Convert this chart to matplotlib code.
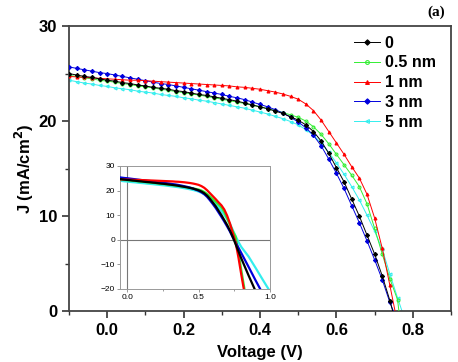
import numpy as np
import matplotlib.pyplot as plt
from matplotlib.ticker import MultipleLocator

plt.rcParams['font.family'] = ['Liberation Sans', 'DejaVu Sans']

# voltage grid (V) shared by every curve
voltage = [-0.10, -0.08, -0.06, -0.04, -0.02, 0.00, 0.02, 0.04, 0.06, 0.08,
           0.10, 0.12, 0.14, 0.16, 0.18, 0.20, 0.22, 0.24, 0.26, 0.28,
           0.30, 0.32, 0.34, 0.36, 0.38, 0.40, 0.42, 0.44, 0.46, 0.48,
           0.50, 0.52, 0.54, 0.56, 0.58, 0.60, 0.62, 0.64, 0.66, 0.68,
           0.70, 0.72, 0.74, 0.76, 0.78, 0.80, 0.85, 0.90, 0.95, 1.00]

# current density (mA/cm2)
j_0nm = [25.0, 24.85, 24.7, 24.6, 24.45, 24.3, 24.2, 24.05, 23.95, 23.8,
         23.7, 23.55, 23.45, 23.35, 23.2, 23.1, 22.95, 22.8, 22.7, 22.55,
         22.4, 22.25, 22.1, 21.9, 21.7, 21.5, 21.3, 21.05, 20.8, 20.45,
         20.1, 19.6, 18.9, 17.9, 16.6, 15.1, 13.6, 11.8, 10.0, 8.0,
         6.0, 3.7, 1.1, -1.9, -4.8, -7.7, -14.5, -21.0, -28.0, -34.0]
j_05nm = [24.8, 24.7, 24.55, 24.45, 24.3, 24.2, 24.1, 23.95, 23.85, 23.7,
          23.6, 23.5, 23.35, 23.25, 23.1, 23.0, 22.85, 22.75, 22.6, 22.45,
          22.3, 22.15, 22.0, 21.85, 21.65, 21.5, 21.3, 21.1, 20.9, 20.65,
          20.4, 20.0, 19.4, 18.6, 17.6, 16.5, 15.4, 14.3, 13.1, 11.3,
          8.7, 6.0, 3.4, 1.2, -5.4, -12.6, -30.0, -48.0, -66.0, -84.0]
j_1nm = [24.7, 24.65, 24.6, 24.55, 24.5, 24.45, 24.4, 24.35, 24.3, 24.3,
         24.25, 24.2, 24.15, 24.1, 24.05, 24.0, 23.95, 23.9, 23.85, 23.8,
         23.75, 23.7, 23.6, 23.55, 23.45, 23.35, 23.2, 23.05, 22.85, 22.6,
         22.3, 21.8, 21.1, 20.1, 18.9, 17.7, 16.5, 15.2, 14.0, 12.3,
         9.8, 6.6, 2.7, -1.3, -7.5, -14.5, -31.0, -48.0, -65.0, -82.0]
j_3nm = [25.7, 25.55, 25.4, 25.25, 25.1, 25.0, 24.85, 24.7, 24.55, 24.4,
         24.25, 24.1, 23.95, 23.85, 23.7, 23.55, 23.4, 23.25, 23.1, 22.95,
         22.8, 22.6, 22.45, 22.25, 22.0, 21.75, 21.5, 21.2, 20.85, 20.4,
         19.9, 19.3, 18.5, 17.4, 16.0, 14.5, 12.9, 11.1, 9.3, 7.4,
         5.4, 3.3, 0.9, -1.1, -3.3, -5.5, -11.0, -16.6, -22.0, -27.5]
j_5nm = [24.3, 24.15, 24.0, 23.9, 23.75, 23.65, 23.5, 23.4, 23.3, 23.15,
         23.05, 22.95, 22.8, 22.7, 22.6, 22.45, 22.35, 22.2, 22.1, 21.95,
         21.8, 21.65, 21.5, 21.35, 21.15, 20.95, 20.75, 20.5, 20.25, 19.95,
         19.6, 19.1, 18.5, 17.7, 16.7, 15.6, 14.4, 13.1, 11.7, 10.1,
         8.4, 6.5, 3.9, 1.4, -1.0, -3.0, -6.8, -11.5, -16.3, -21.0]

labels = ['0', '0.5 nm', '1 nm', '3 nm', '5 nm']
series = [j_0nm, j_05nm, j_1nm, j_3nm, j_5nm]
colors = ['black', '#33ee33', 'red', '#0000dd', '#33eeee']
markers = ['D', 'o', '^', 'D', '<']
zorders = [6, 3, 5, 4, 2]

fig = plt.figure(figsize=(4.58, 3.62), dpi=100)
ax = fig.add_axes([0.1507, 0.1409, 0.834, 0.787])

for j, lab, c, m, z in zip(series, labels, colors, markers, zorders):
    face = 'none' if lab in ('0.5 nm', '5 nm') else c
    ax.plot(voltage, j, color=c, lw=0.7, marker=m, ms=2.1, mfc=face,
            mec=c, mew=0.8, label=lab, zorder=z)

ax.set_xlim(-0.1, 0.9)
ax.set_ylim(0, 30)
ax.xaxis.set_major_locator(MultipleLocator(0.2))
ax.xaxis.set_minor_locator(MultipleLocator(0.1))
ax.yaxis.set_major_locator(MultipleLocator(10))
ax.yaxis.set_minor_locator(MultipleLocator(5))
ax.tick_params(which='major', direction='out', length=5, width=1.2,
               labelsize=12, color='#333333')
ax.tick_params(which='minor', direction='out', length=3, width=1.0,
               color='#333333')
for lbl in ax.get_xticklabels() + ax.get_yticklabels():
    lbl.set_fontweight('bold')
for s in ax.spines.values():
    s.set_linewidth(1.3)
    s.set_color('#444444')

ax.set_xlabel('Voltage (V)', fontsize=12, fontweight='bold', labelpad=5)
ax.set_ylabel('J (mA/cm$\\mathbf{^2}$)', fontsize=12, fontweight='bold',
              labelpad=2)

leg = ax.legend(loc='upper right', frameon=False, fontsize=11.5,
                handlelength=1.6, handletextpad=0.3, labelspacing=0.3,
                borderaxespad=0.2, markerscale=1.3,
                bbox_to_anchor=(0.985, 1.0))
for t in leg.get_texts():
    t.set_fontweight('bold')

fig.text(0.952, 0.965, '(a)', fontsize=11, fontweight='bold',
         family='Liberation Serif', ha='center', va='center')

# inset: same curves over wider range
ins = fig.add_axes([0.262, 0.2017, 0.3275, 0.34])
for j, c, z in zip(series, colors, zorders):
    ins.plot(voltage, j, color=c, lw=1.6, zorder=z)
ins.axhline(0, color='#777777', lw=0.8, zorder=1)
ins.axvline(0, color='#777777', lw=0.8, zorder=1)
ins.set_xlim(-0.05, 1.0)
ins.set_ylim(-20, 30)
ins.xaxis.set_major_locator(MultipleLocator(0.5))
ins.xaxis.set_minor_locator(MultipleLocator(0.25))
ins.yaxis.set_major_locator(MultipleLocator(10))
ins.tick_params(which='both', direction='out', length=2, width=0.6,
                labelsize=6, color='#888888', pad=1.5)
ins.tick_params(which='minor', length=1.2)
ins.set_xticks([0.0, 0.5, 1.0])
ins.set_xticklabels(['0.0', '0.5', '1.0'])
for s in ins.spines.values():
    s.set_linewidth(0.7)
    s.set_color('#999999')

fig.savefig('out.png', dpi=100)
